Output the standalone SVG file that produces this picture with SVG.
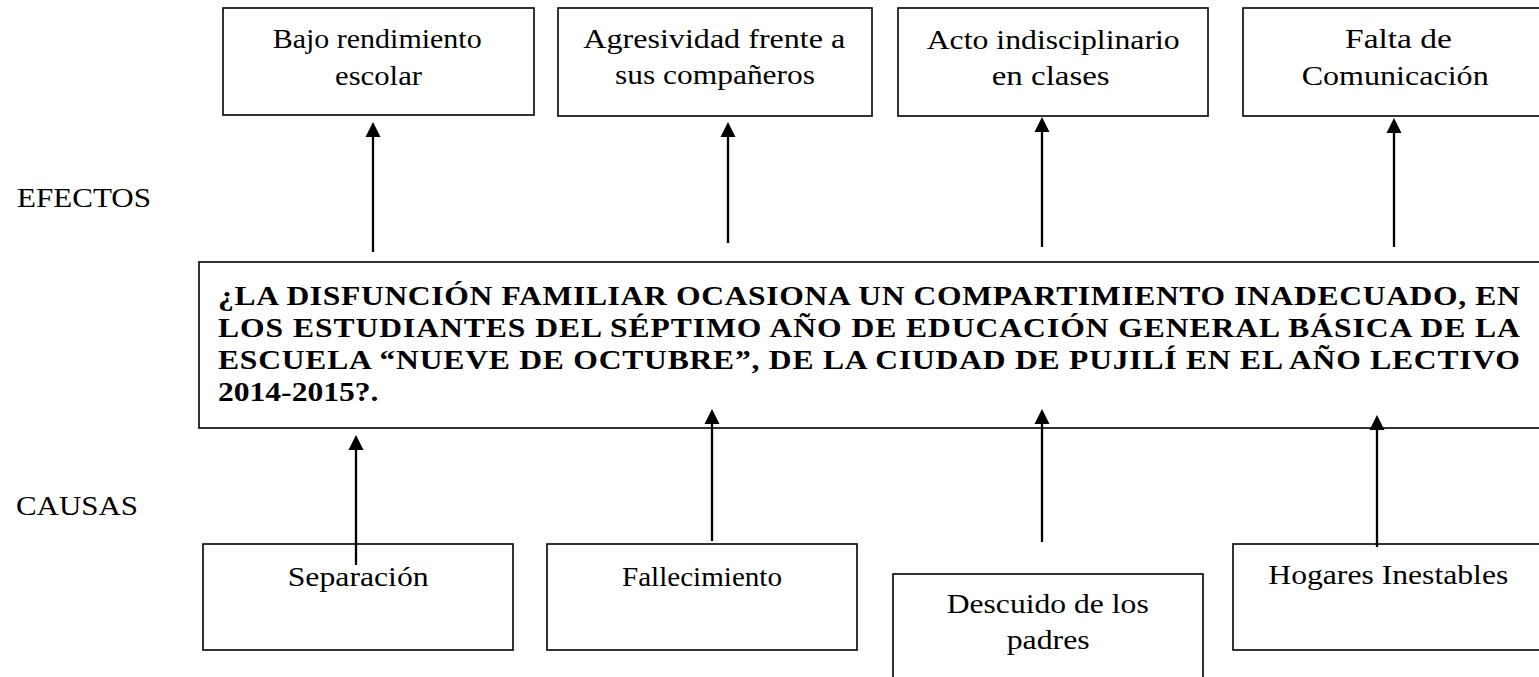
<svg xmlns="http://www.w3.org/2000/svg" width="1539" height="677" viewBox="0 0 1539 677">
<style>
.box{fill:#fff;stroke:#000;stroke-width:1.6}
.lbl{font-family:"Liberation Serif","Times New Roman",serif;font-size:27px;fill:#000}
.q{font-family:"Liberation Serif","Times New Roman",serif;font-size:27.7px;font-weight:bold;fill:#000}
.arr{stroke:#000;stroke-width:2.3;fill:none;marker-end:url(#ah)}
</style>
<defs>
<marker id="ah" markerUnits="userSpaceOnUse" markerWidth="16" markerHeight="16" viewBox="0 0 16 16" refX="0" refY="8" orient="auto">
<path d="M0,0.5 L15,8 L0,15.5 Z" fill="#000"/>
</marker>
</defs>
<rect width="1539" height="677" fill="#fff"/>
<text class="lbl" x="17" y="207" textLength="134" lengthAdjust="spacingAndGlyphs">EFECTOS</text>
<text class="lbl" x="16" y="515" textLength="122" lengthAdjust="spacingAndGlyphs">CAUSAS</text>
<g id="e1"><rect class="box" x="223" y="8" width="311" height="107"/>
<text class="lbl" x="272.7" y="48" textLength="209" lengthAdjust="spacingAndGlyphs">Bajo rendimiento</text>
<text class="lbl" x="335" y="85" textLength="87" lengthAdjust="spacingAndGlyphs">escolar</text></g>
<g id="e2"><rect class="box" x="558" y="8" width="314" height="108"/>
<text class="lbl" x="583.3" y="48" textLength="262" lengthAdjust="spacingAndGlyphs">Agresividad frente a</text>
<text class="lbl" x="615" y="84" textLength="200" lengthAdjust="spacingAndGlyphs">sus compañeros</text></g>
<g id="e3"><rect class="box" x="898" y="8" width="310" height="108"/>
<text class="lbl" x="926.7" y="49" textLength="253" lengthAdjust="spacingAndGlyphs">Acto indisciplinario</text>
<text class="lbl" x="991.7" y="85" textLength="118" lengthAdjust="spacingAndGlyphs">en clases</text></g>
<g id="e4"><rect class="box" x="1243" y="8" width="310" height="108"/>
<text class="lbl" x="1345" y="48" textLength="107" lengthAdjust="spacingAndGlyphs">Falta de</text>
<text class="lbl" x="1301.7" y="85" textLength="187" lengthAdjust="spacingAndGlyphs">Comunicación</text></g>
<g id="problema"><rect class="box" x="199" y="262" width="1350" height="166"/>
<g transform="matrix(1.14 0 0 1 -30.52 0)">
<text class="q" x="218" y="305" textLength="1142" lengthAdjust="spacing">¿LA DISFUNCIÓN FAMILIAR OCASIONA UN COMPARTIMIENTO INADECUADO, EN</text>
<text class="q" x="218" y="337" textLength="1142" lengthAdjust="spacing">LOS ESTUDIANTES DEL SÉPTIMO AÑO DE EDUCACIÓN GENERAL BÁSICA DE LA</text>
<text class="q" x="218" y="369" textLength="1142" lengthAdjust="spacing">ESCUELA “NUEVE DE OCTUBRE”, DE LA CIUDAD DE PUJILÍ EN EL AÑO LECTIVO</text>
<text class="q" x="218" y="401">2014-2015?.</text>
</g></g>
<g id="c1"><rect class="box" x="203" y="544" width="310" height="106"/>
<text class="lbl" x="287.7" y="586" textLength="141" lengthAdjust="spacingAndGlyphs">Separación</text></g>
<g id="c2"><rect class="box" x="547" y="544" width="310" height="106"/>
<text class="lbl" x="622" y="586" textLength="160" lengthAdjust="spacingAndGlyphs">Fallecimiento</text></g>
<g id="c3"><rect class="box" x="893" y="574" width="310" height="120"/>
<text class="lbl" x="946.7" y="613" textLength="202" lengthAdjust="spacingAndGlyphs">Descuido de los</text>
<text class="lbl" x="1006.7" y="649" textLength="83" lengthAdjust="spacingAndGlyphs">padres</text></g>
<g id="c4"><rect class="box" x="1233" y="544" width="310" height="106"/>
<text class="lbl" x="1268.3" y="584" textLength="240" lengthAdjust="spacingAndGlyphs">Hogares Inestables</text></g>
<g id="connectors">
<line class="arr" x1="373" y1="252" x2="373" y2="137"/>
<line class="arr" x1="728" y1="243" x2="728" y2="137"/>
<line class="arr" x1="1042" y1="247" x2="1042" y2="132"/>
<line class="arr" x1="1394" y1="247" x2="1394" y2="133"/>
<line class="arr" x1="356" y1="565" x2="356" y2="450"/>
<line class="arr" x1="712" y1="541" x2="712" y2="424"/>
<line class="arr" x1="1042" y1="542" x2="1042" y2="424"/>
<line class="arr" x1="1377" y1="547" x2="1377" y2="430"/>
</g>
</svg>
